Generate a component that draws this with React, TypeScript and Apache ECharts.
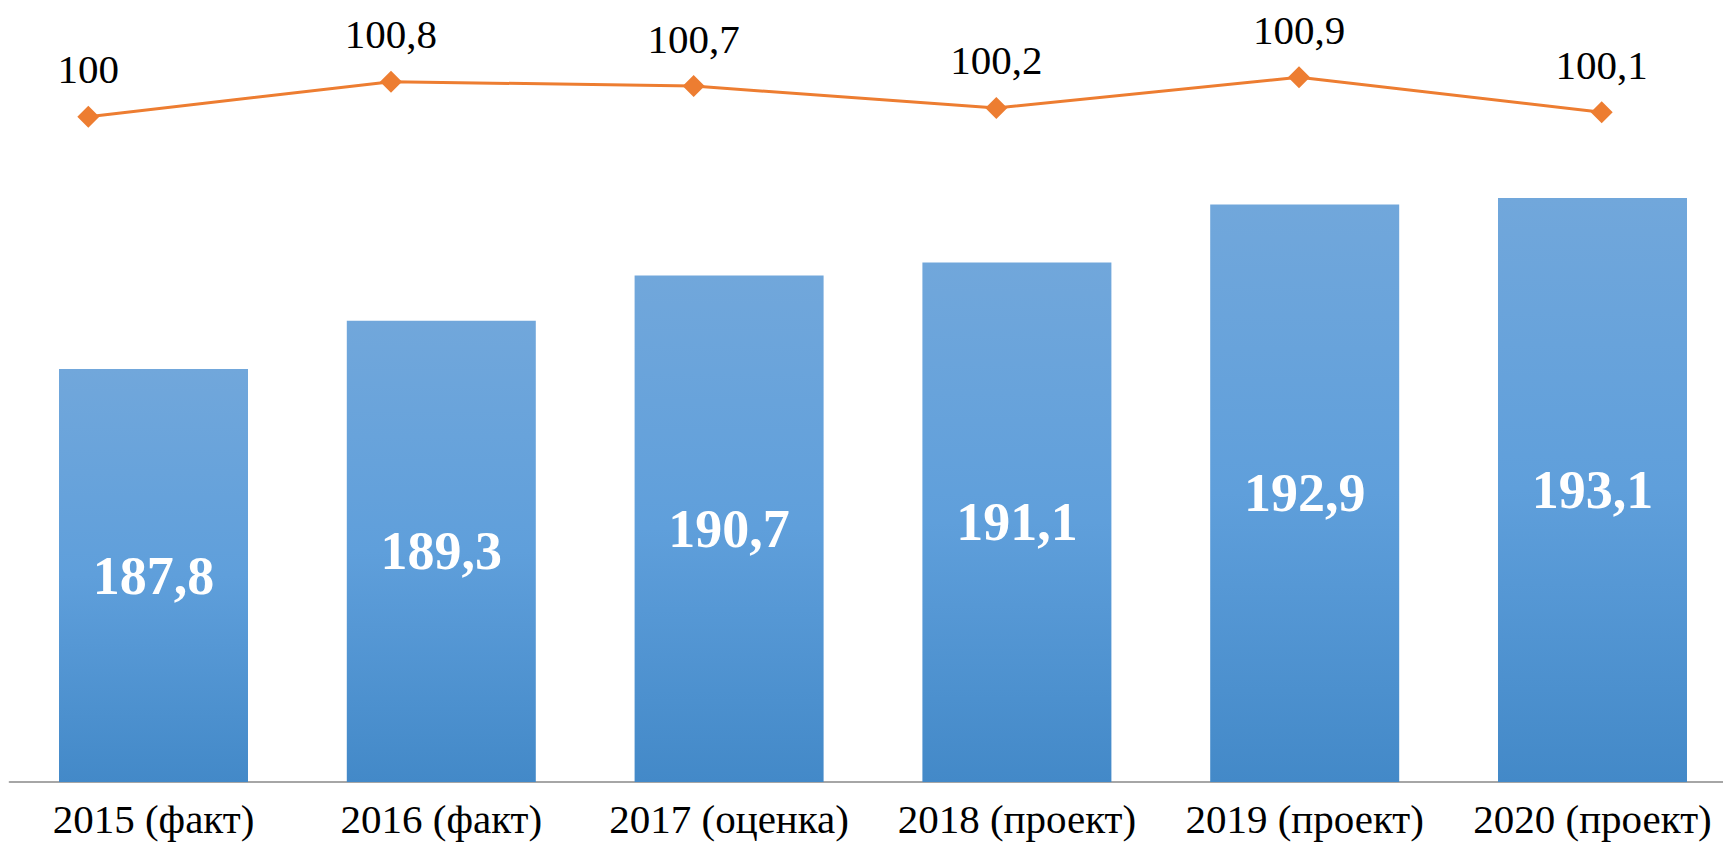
import React, { useEffect, useRef } from "react";
import * as echarts from "echarts";

const categories = ["2015 (факт)", "2016 (факт)", "2017 (оценка)", "2018 (проект)", "2019 (проект)", "2020 (проект)"];
const barValues = [187.8, 189.3, 190.7, 191.1, 192.9, 193.1];
const lineValues = [100, 100.8, 100.7, 100.2, 100.9, 100.1];

const fmt = (v: number) => (Number.isInteger(v) ? String(v) : v.toFixed(1).replace(".", ","));
const FONT = "Liberation Serif, Times New Roman, serif";

export default function App() {
  const ref = useRef<HTMLDivElement>(null);
  useEffect(() => {
    const chart = echarts.init(ref.current!, undefined, { renderer: "svg" });
    chart.setOption({
      animation: false,
      backgroundColor: "#ffffff",
      textStyle: { fontFamily: FONT },
      grid: [
        { left: 9.6, width: 1726.8, top: 136.8, height: 645.2 },
        { left: 88.3, width: 1513.4, top: 72.9, height: 87.6 },
      ],
      xAxis: [
        {
          type: "category",
          gridIndex: 0,
          data: categories,
          axisLine: { show: true, lineStyle: { color: "#a6a6a6", width: 2 } },
          axisTick: { show: false },
          axisLabel: { color: "#000", fontFamily: FONT, fontWeight: "normal", fontSize: 41, margin: 16, interval: 0 },
        },
        {
          type: "category",
          gridIndex: 1,
          data: categories,
          boundaryGap: false,
          show: false,
        },
      ],
      yAxis: [
        { type: "value", gridIndex: 0, min: 175, max: 195, show: false, splitLine: { show: false } },
        { type: "value", gridIndex: 1, min: 99, max: 101, show: false, splitLine: { show: false } },
      ],
      series: [
        {
          type: "bar",
          xAxisIndex: 0,
          yAxisIndex: 0,
          data: barValues,
          barWidth: 189,
          itemStyle: {
            color: new echarts.graphic.LinearGradient(0, 0, 0, 1, [
              { offset: 0, color: "#71a7db" },
              { offset: 0.5, color: "#5f9fdb" },
              { offset: 1, color: "#4389c8" },
            ]),
          },
          label: {
            show: true,
            position: "inside",
            color: "#fff",
            fontFamily: FONT,
            fontWeight: "bold",
            fontSize: 54,
            formatter: (p: any) => fmt(p.value),
          },
        },
        {
          type: "line",
          xAxisIndex: 1,
          yAxisIndex: 1,
          data: lineValues,
          symbol: "diamond",
          symbolSize: 22,
          lineStyle: { color: "#ed7d31", width: 3 },
          itemStyle: { color: "#ed7d31" },
          label: {
            show: true,
            position: "top",
            distance: 16,
            color: "#000",
            fontFamily: FONT,
            fontWeight: "normal",
            fontSize: 41,
            lineHeight: 41,
            formatter: (p: any) => fmt(p.value),
          },
        },
      ],
    });
    return () => chart.dispose();
  }, []);
  return (
    <div style={{ position: "absolute", left: 0, top: 0, width: 1723, height: 845, overflow: "hidden" }}>
      <div ref={ref} style={{ width: 1760, height: 845 }} />
    </div>
  );
}
